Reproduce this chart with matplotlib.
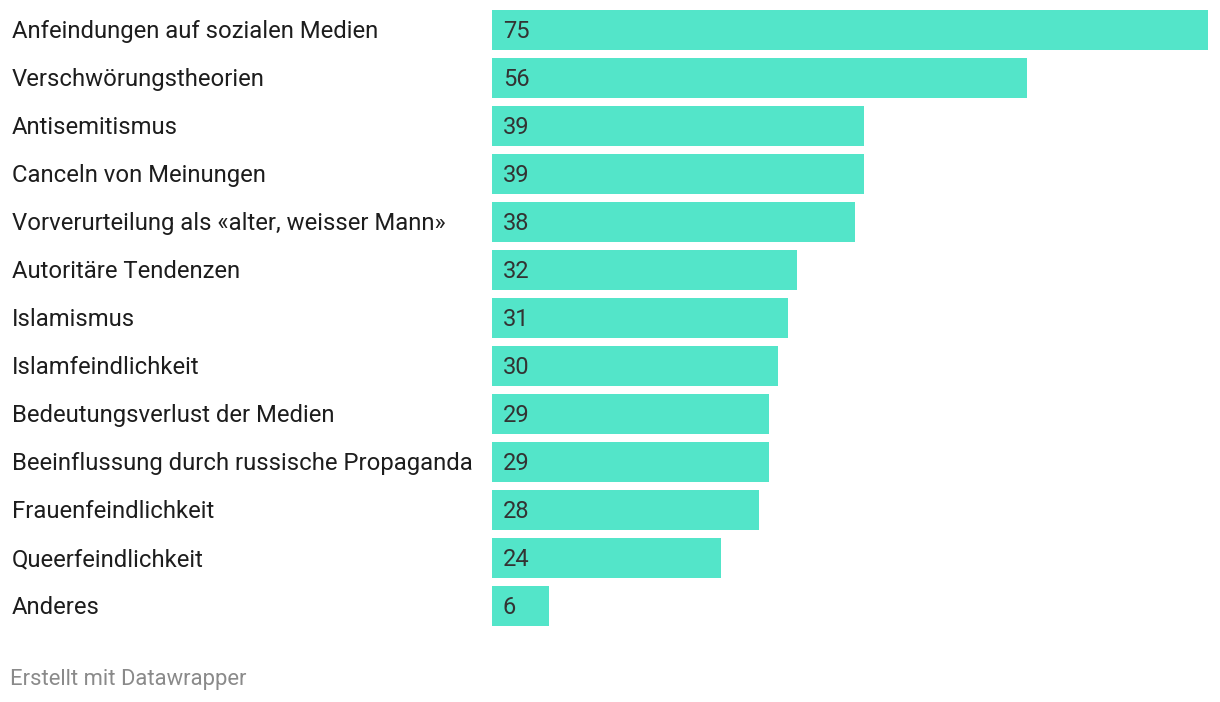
import matplotlib
matplotlib.use("Agg")
import matplotlib.pyplot as plt

categories = [
    "Anfeindungen auf sozialen Medien",
    "Verschwörungstheorien",
    "Antisemitismus",
    "Canceln von Meinungen",
    "Vorverurteilung als «alter, weisser Mann»",
    "Autoritäre Tendenzen",
    "Islamismus",
    "Islamfeindlichkeit",
    "Bedeutungsverlust der Medien",
    "Beeinflussung durch russische Propaganda",
    "Frauenfeindlichkeit",
    "Queerfeindlichkeit",
    "Anderes",
]
values = [75, 56, 39, 39, 38, 32, 31, 30, 29, 29, 28, 24, 6]
footer = "Erstellt mit Datawrapper"

W, H = 1220, 702
fig = plt.figure(figsize=(W / 100, H / 100), dpi=100)
plt.rcParams['font.family'] = ['Roboto', 'DejaVu Sans']

ax_left, ax_right = 492, 1208
ax_top, ax_bottom = 6, 630
ax = fig.add_axes([ax_left / W, 1 - ax_bottom / H, (ax_right - ax_left) / W, (ax_bottom - ax_top) / H])
n = len(categories)
ypos = list(range(n))
ax.barh(ypos, values, height=40 / 48, color="#53E5C9", edgecolor="none")
ax.set_xlim(0, 75)
ax.set_ylim(n - 0.5, -0.5)
ax.axis("off")

for y, v, c in zip(ypos, values, categories):
    ax.text(11 / 716 * 75, y + 0.03, str(v), va="center", ha="left", fontsize=17, color="#333333")
    fig.text(12 / W, 1 - (31.5 + 48 * y) / H, c, va="center", ha="left", fontsize=17.2, color="#1d1d1d")

fig.text(10 / W, 1 - 680 / H, footer, va="center", ha="left", fontsize=15.8, color="#8a8a8a")

fig.savefig("out.png", dpi=100, facecolor="white")
